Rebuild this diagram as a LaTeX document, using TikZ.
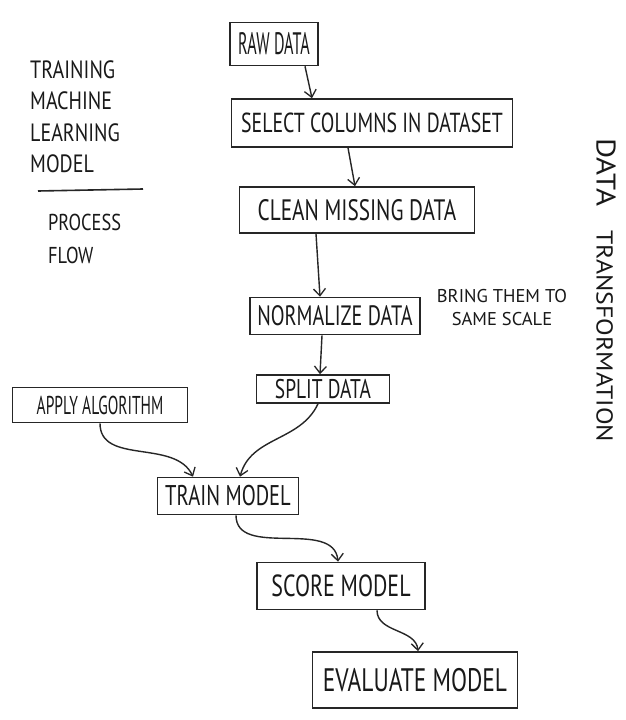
\documentclass[tikz,border=0pt]{standalone}
\usepackage{fontspec}
\usepackage{graphicx}
\setmainfont{PT Sans}
\usetikzlibrary{arrows.meta}
% handwritten-like tall letters: horizontal scale, font size, text
\newcommand{\hw}[3]{\scalebox{#1}[1]{\fontsize{#2}{#2}\selectfont #3}}
\newcommand{\fsz}[1]{\fontsize{#1}{#1}\selectfont}
\begin{document}
\begin{tikzpicture}[x=1pt,y=1pt,
  ink/.style={draw=black!85, line width=1.6pt},
  box/.style={ink, rectangle, inner sep=2pt, text=black!90},
  arr/.style={ink, line width=1.4pt, -{Straight Barb[length=7pt,width=12pt,line width=1.3pt]}},
  lbl/.style={text=black!90, align=left}]
\useasboundingbox[fill=white] (0,0) rectangle (626,-720);

% boxes
\node[box, minimum width=88, minimum height=43] (raw) at (274,-44) {\hw{0.52}{31}{RAW DATA}};
\node[box, minimum width=281, minimum height=48] (sel) at (372,-123) {\hw{0.72}{27.5}{SELECT COLUMNS IN DATASET}};
\node[box, minimum width=235, minimum height=46] (clean) at (357,-210) {\hw{0.72}{29.5}{CLEAN MISSING DATA}};
\node[box, minimum width=170, minimum height=37] (norm) at (335,-316) {\hw{0.72}{28}{NORMALIZE DATA}};
\node[box, minimum width=133, minimum height=28] (split) at (323,-389) {\hw{0.72}{27}{SPLIT DATA}};
\node[box, minimum width=175, minimum height=35] (apply) at (100,-405) {\hw{0.6}{25.8}{APPLY ALGORITHM}};
\node[box, minimum width=141, minimum height=37] (train) at (228,-496) {\hw{0.72}{28.5}{TRAIN MODEL}};
\node[box, minimum width=168, minimum height=47] (score) at (341,-586) {\hw{0.72}{30.5}{SCORE MODEL}};
\node[box, minimum width=205, minimum height=56] (eval) at (415,-680) {\hw{0.72}{32.5}{EVALUATE MODEL}};

% side texts
\node[lbl, anchor=north west, inner sep=0pt] (title) at (30,-56)
  {\scalebox{0.8}[1]{\fontsize{25}{31.5}\selectfont\begin{tabular}{@{}l@{}}TRAINING\\MACHINE\\LEARNING\\MODEL\end{tabular}}};
\coordinate (rl) at (38,-191);
\coordinate (rr) at (143,-189);
\draw[ink] (rl) -- (rr);
\node[lbl, anchor=north west, inner sep=0pt] (proc) at (48,-207)
  {\scalebox{0.8}[1]{\fontsize{23}{33}\selectfont\begin{tabular}{@{}l@{}}PROCESS\\FLOW\end{tabular}}};
\node[lbl, align=center, font=\fontsize{18.5}{23}\selectfont] (bring) at (502,-308) {BRING THEM TO\\SAME SCALE};
\node[lbl, rotate=-90, anchor=west, inner sep=0pt] (dt) at (606,-138)
  {\scalebox{1.14}[1]{\fsz{27}DATA}\hspace{24pt}\scalebox{1.12}[1]{\fsz{23}TRANSFORMATION}};

% connectors
\draw[arr] ([xshift=31]raw.south) -- ([xshift=-60]sel.north);
\draw[arr] ([xshift=-24]sel.south) -- ([xshift=-2]clean.north);
\draw[arr] ([xshift=-41]clean.south) -- ([xshift=-15]norm.north);
\draw[arr] ([xshift=-13]norm.south) -- ([xshift=-3]split.north);
\draw[arr] ([xshift=-5]split.south) to[out=-115,in=75] ([xshift=12]train.north);
\draw[arr] ([xshift=0]apply.south) to[out=-90,in=115] ([xshift=-35]train.north);
\draw[arr] ([xshift=8]train.south) to[out=-90,in=95] ([xshift=-3]score.north);
\draw[arr] ([xshift=36]score.south) to[out=-90,in=95] ([xshift=3]eval.north);
\end{tikzpicture}
\end{document}
